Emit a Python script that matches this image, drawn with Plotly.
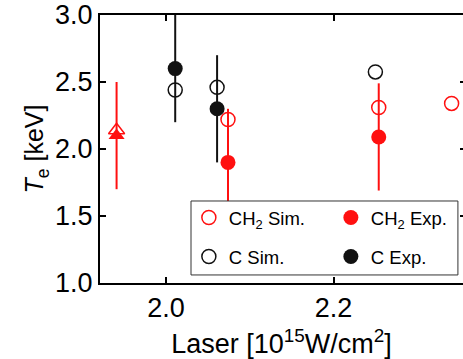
import plotly.graph_objects as go

# Data
ch2_sim_x = [2.074, 2.254, 2.341]
ch2_sim_y = [2.22, 2.31, 2.34]
ch2_exp_x = [2.074, 2.254]
ch2_exp_y = [1.90, 2.09]
ch2_exp_err = [0.4, 0.4]
c_sim_x = [2.011, 2.061, 2.250]
c_sim_y = [2.44, 2.46, 2.575]
c_exp_x = [2.011, 2.061]
c_exp_y = [2.60, 2.30]
c_exp_err = [0.4, 0.4]
tri_x = [1.941]
tri_sim_y = [2.14]
tri_exp_y = [2.10]
tri_exp_err = [0.4]

RED = "#ff1010"
BLK = "#111111"
FONT = "Liberation Sans, Arial, sans-serif"

fig = go.Figure()

# triangle points (no legend)
fig.add_trace(go.Scatter(x=tri_x, y=tri_exp_y, mode="markers", showlegend=False,
                         error_y=dict(type="data", array=tri_exp_err, color=RED, thickness=2, width=0),
                         marker=dict(symbol="triangle-up", size=14, color=RED)))
fig.add_trace(go.Scatter(x=tri_x, y=tri_sim_y, mode="markers", showlegend=False,
                         marker=dict(symbol="triangle-up-open", size=14, color=RED, line=dict(width=1.5))))

fig.add_trace(go.Scatter(x=ch2_sim_x, y=ch2_sim_y, mode="markers", name="CH<sub>2</sub> Sim.",
                         legend="legend",
                         marker=dict(symbol="circle-open", size=14, color=RED, line=dict(width=1.5))))
fig.add_trace(go.Scatter(x=ch2_exp_x, y=ch2_exp_y, mode="markers", name="CH<sub>2</sub> Exp.",
                         legend="legend",
                         error_y=dict(type="data", array=ch2_exp_err, color=RED, thickness=2, width=0),
                         marker=dict(symbol="circle", size=15, color=RED)))
fig.add_trace(go.Scatter(x=c_sim_x, y=c_sim_y, mode="markers", name="C Sim.",
                         legend="legend2",
                         marker=dict(symbol="circle-open", size=14, color=BLK, line=dict(width=1.5))))
fig.add_trace(go.Scatter(x=c_exp_x, y=c_exp_y, mode="markers", name="C Exp.",
                         legend="legend2",
                         error_y=dict(type="data", array=c_exp_err, color=BLK, thickness=2, width=0),
                         marker=dict(symbol="circle", size=15, color=BLK)))

# dummy traces to draw mirrored ticks on top and right edges
fig.add_trace(go.Scatter(x=[None], y=[None], yaxis="y2", showlegend=False))
fig.add_trace(go.Scatter(x=[None], y=[None], xaxis="x2", showlegend=False))

leg_common = dict(orientation="h", xanchor="left", yanchor="middle",
                  entrywidth=97, entrywidthmode="pixels",
                  borderwidth=0, bgcolor="rgba(0,0,0,0)",
                  font=dict(size=18.5, family=FONT))

fig.update_layout(
    width=463, height=359,
    margin=dict(l=100, r=0, t=15, b=76, autoexpand=False),
    paper_bgcolor="white", plot_bgcolor="white",
    font=dict(family=FONT, color="black"),
    xaxis=dict(range=[1.9212, 2.3546], tick0=2.0, dtick=0.2, tickformat=".1f",
               showline=True, linecolor="black", linewidth=2, mirror=False,
               ticks="inside", ticklen=6, tickwidth=2, tickcolor="black",
               showgrid=False, zeroline=False, tickfont=dict(size=27),
               title=dict(text="Laser [10<sup>15</sup>W/cm<sup>2</sup>]", font=dict(size=27), standoff=14)),
    xaxis2=dict(overlaying="x", side="top", matches="x", range=[1.9212, 2.3546],
                tick0=2.0, dtick=0.2, showline=True, linecolor="black", linewidth=2,
                ticks="inside", ticklen=6, tickwidth=2, tickcolor="black",
                showticklabels=False, showgrid=False, zeroline=False),
    yaxis=dict(range=[1.0, 3.0], dtick=0.5, tickformat=".1f",
               showline=True, linecolor="black", linewidth=2,
               ticks="inside", ticklen=6, tickwidth=2, tickcolor="black",
               showgrid=False, zeroline=False, tickfont=dict(size=27),
               title=dict(text="<i>T</i><sub>e</sub> [keV]", font=dict(size=25), standoff=4)),
    yaxis2=dict(overlaying="y", side="right", range=[1.0, 3.0], dtick=0.5,
                showline=False, ticks="inside", ticklen=3, tickwidth=2, tickcolor="black",
                showticklabels=False, showgrid=False, zeroline=False),
    legend=dict(leg_common, x=0.2448, y=0.2425),
    legend2=dict(leg_common, x=0.2448, y=0.097),
    shapes=[dict(type="rect", xref="paper", yref="paper",
                 x0=0.2507, x1=0.986, y0=0.030, y1=0.306,
                 line=dict(color="#333333", width=1), fillcolor="white", layer="above")],
)

fig.write_html("out.html")
